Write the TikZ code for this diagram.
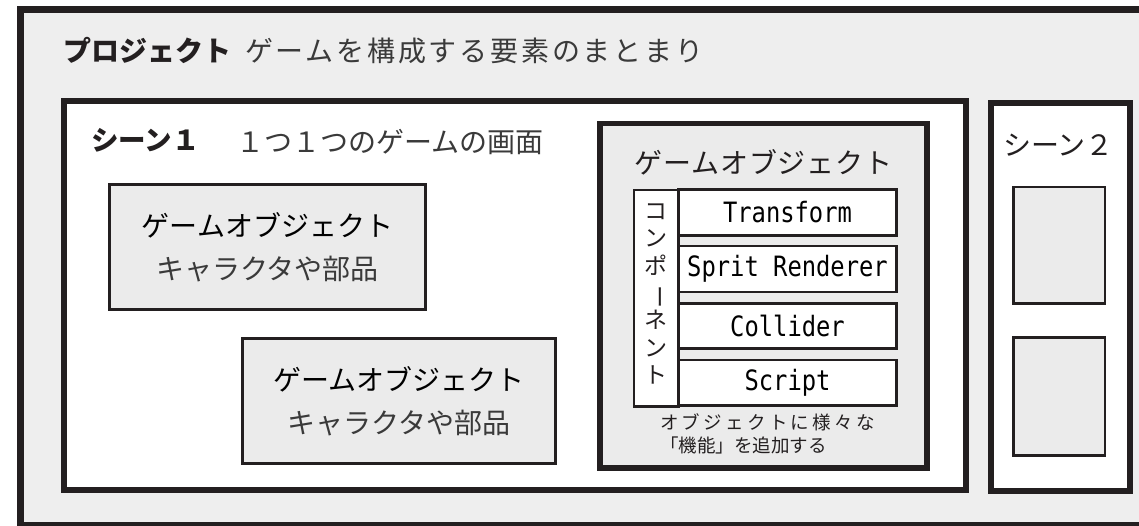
\documentclass[tikz,border=0pt]{standalone}
\usepackage{fontspec}
\usepackage{graphicx}
\newfontfamily\jp{Noto Sans CJK JP}
\newfontfamily\monoc[FakeStretch=0.85]{DejaVu Sans Mono}
\definecolor{ink}{HTML}{231F20}
\definecolor{bgout}{HTML}{EEEEEE}
\definecolor{boxfill}{HTML}{EBEBEB}
\definecolor{softink}{HTML}{3A3A3A}
\begin{document}
\begin{tikzpicture}[x=1pt,y=-1pt,
  frame/.style={draw=ink, rectangle, inner sep=0pt, outer sep=0pt},
  heavyframe/.style={frame, line width=7pt, fill=bgout},
  scenebox/.style={frame, line width=6pt, fill=white},
  objbox/.style={frame, line width=3pt, fill=boxfill, align=center, font=\jp\fontsize{28}{43}\selectfont},
  bigobj/.style={frame, line width=5.5pt, fill=boxfill},
  compbox/.style={frame, line width=2.6pt, fill=white, minimum width=218pt, font=\monoc\fontsize{28}{30}\selectfont},
  smallbox/.style={frame, line width=2.6pt, fill=boxfill, minimum width=91.5pt},
  txt/.style={inner sep=0pt, outer sep=0pt, text=ink}
]
\useasboundingbox (0,0) rectangle (1139,525);
\clip (0,0) rectangle (1139,525);

% project frame
\node[heavyframe, minimum width=1129.5pt, minimum height=516pt] (project) at (585.25,267.5) {};
\node[txt, anchor=west, font=\jp\bfseries\fontsize{28}{30}\selectfont] (ptitle) at (63,50.5) {プロジェクト};
\node[txt, anchor=west, text=softink, font=\jp\fontsize{28}{30}\selectfont\addfontfeature{LetterSpace=10}] (pdesc) at (245,50.5) {ゲームを構成する要素のまとまり};

% scene 1
\node[scenebox, minimum width=902pt, minimum height=389pt] (scene1) at (515,295.5) {};
\node[txt, anchor=west, font=\jp\bfseries\fontsize{27.5}{30}\selectfont] (s1title) at (91,140) {シーン１};
\node[txt, anchor=west, text=softink, font=\jp\fontsize{28}{30}\selectfont] (s1desc) at (236,142) {１つ１つのゲームの画面};

% game objects in scene 1
\node[objbox, minimum width=316pt, minimum height=125pt] (go1) at (267.5,247)
  {ゲームオブジェクト\\ \textcolor{softink}{キャラクタや部品}};
\node[objbox, minimum width=313pt, minimum height=125pt] (go2) at (399,401)
  {ゲームオブジェクト\\ \textcolor{softink}{キャラクタや部品}};

% big game object with components
\node[bigobj, minimum width=327pt, minimum height=344.5pt] (go3) at (763.5,295.75) {};
\node[txt, font=\jp\fontsize{28}{30}\selectfont\addfontfeature{LetterSpace=3}] (go3title) at (763.5,162) {ゲームオブジェクト};

\node[frame, line width=2.6pt, fill=white, minimum width=44.5pt, minimum height=216.5pt] (compcol) at (656.25,298.25) {};
\node[txt, align=center, font=\jp\fontsize{23}{27.3}\selectfont] (complabel) at (656,294)
  {コ\\ン\\ポ\\\rotatebox[origin=c]{-90}{ー}\\ネ\\ン\\ト};

\node[compbox, minimum height=45.5pt] (transform) at (787.5,212.5) {Transform};
\node[compbox, minimum height=46pt] (sprite) at (787.5,269) {Sprit Renderer};
\node[compbox, minimum height=45pt] (collider) at (787.5,326) {Collider};
\node[compbox, minimum height=45.5pt] (script) at (787.5,382.75) {Script};

\node[txt, anchor=west, align=left, font=\jp\fontsize{18.5}{22.5}\selectfont] (caption) at (660,434)
  {{\addfontfeature{LetterSpace=18}オブジェクトに様々な}\\「機能」を追加する};

% scene 2
\node[scenebox, minimum width=139pt, minimum height=388.5pt] (scene2) at (1060,296.75) {};
\node[txt, font=\jp\fontsize{28}{30}\selectfont] (s2title) at (1058.5,145) {シーン２};
\node[smallbox, minimum height=116.5pt] (s2a) at (1059.25,245.25) {};
\node[smallbox, minimum height=118pt] (s2b) at (1059.25,396.5) {};
\end{tikzpicture}
\end{document}
